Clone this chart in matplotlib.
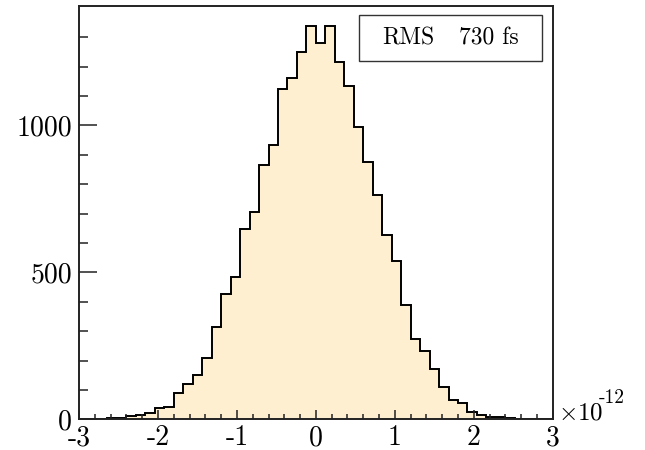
import matplotlib
matplotlib.use("Agg")
import matplotlib.pyplot as plt
import numpy as np
from matplotlib.patches import Rectangle
from matplotlib.ticker import FixedLocator, FixedFormatter

# histogram: 50 bins from -3e-12 to 3e-12 s (axis shown in units of 1e-12)
bin_lo = -3.0
bin_hi = 3.0
n_bins = 50
counts = [1, 2, 3, 6, 4, 10, 16, 22, 38, 43,
          91, 121, 151, 208, 313, 426, 485, 648, 706, 864,
          933, 1125, 1163, 1250, 1337, 1279, 1340, 1217, 1134, 996,
          876, 765, 627, 540, 390, 274, 233, 172, 111, 66,
          55, 25, 16, 7, 9, 4, 3, 2, 1, 1]

x_major = [-3, -2, -1, 0, 1, 2, 3]
x_labels = ["-3", "-2", "-1", "0", "1", "2", "3"]
y_major = [0, 500, 1000]
y_labels = ["0", "500", "1000"]
rms_label = "RMS"
rms_value = "730 fs"

plt.rcParams["font.family"] = "cmr10"
plt.rcParams["mathtext.fontset"] = "cm"

edges = np.linspace(bin_lo, bin_hi, n_bins + 1)

fig = plt.figure(figsize=(6.45, 4.5), dpi=100)
ax = fig.add_axes([0.1225, 0.068, 0.7345, 0.919])

ax.stairs(counts, edges, fill=True, color="#fdefd0", linewidth=0)
ax.stairs(counts, edges, baseline=0, color="black", linewidth=1.4)

ax.set_xlim(bin_lo, bin_hi)
ax.set_ylim(0, max(counts) * 1.05)

ax.xaxis.set_major_locator(FixedLocator(x_major))
ax.xaxis.set_major_formatter(FixedFormatter(x_labels))
ax.xaxis.set_minor_locator(FixedLocator(np.arange(-3, 3.01, 0.2)))
ax.yaxis.set_major_locator(FixedLocator(y_major))
ax.yaxis.set_major_formatter(FixedFormatter(y_labels))
ax.yaxis.set_minor_locator(FixedLocator(np.arange(0, 1301, 100)))

ax.tick_params(axis="both", which="both", direction="in", top=False, right=False,
               width=1.1, labelsize=20, color="#222222")
ax.tick_params(axis="x", which="major", length=6.5, pad=4)
ax.tick_params(axis="x", which="minor", length=3.6)
ax.tick_params(axis="y", which="major", length=13, pad=5)
ax.tick_params(axis="y", which="minor", length=6.5)

for s in ax.spines.values():
    s.set_linewidth(1.4)
    s.set_color("#222222")

# exponent label at the end of the x axis
ax.text(1.012, 0.0, r"$\times 10$", transform=ax.transAxes,
        ha="left", va="baseline", fontsize=18)
ax.text(1.098, 0.04, "-12", transform=ax.transAxes,
        ha="left", va="baseline", fontsize=14)

box = Rectangle((0.590, 0.867), 0.387, 0.111, transform=ax.transAxes,
                facecolor="white", edgecolor="#333333", linewidth=1.0, zorder=5)
ax.add_patch(box)
ax.text(0.696, 0.921, rms_label, transform=ax.transAxes, ha="center", va="center",
        fontsize=17, zorder=6)
ax.text(0.864, 0.921, rms_value, transform=ax.transAxes, ha="center", va="center",
        fontsize=17, zorder=6)

fig.savefig("out.png", dpi=100)
